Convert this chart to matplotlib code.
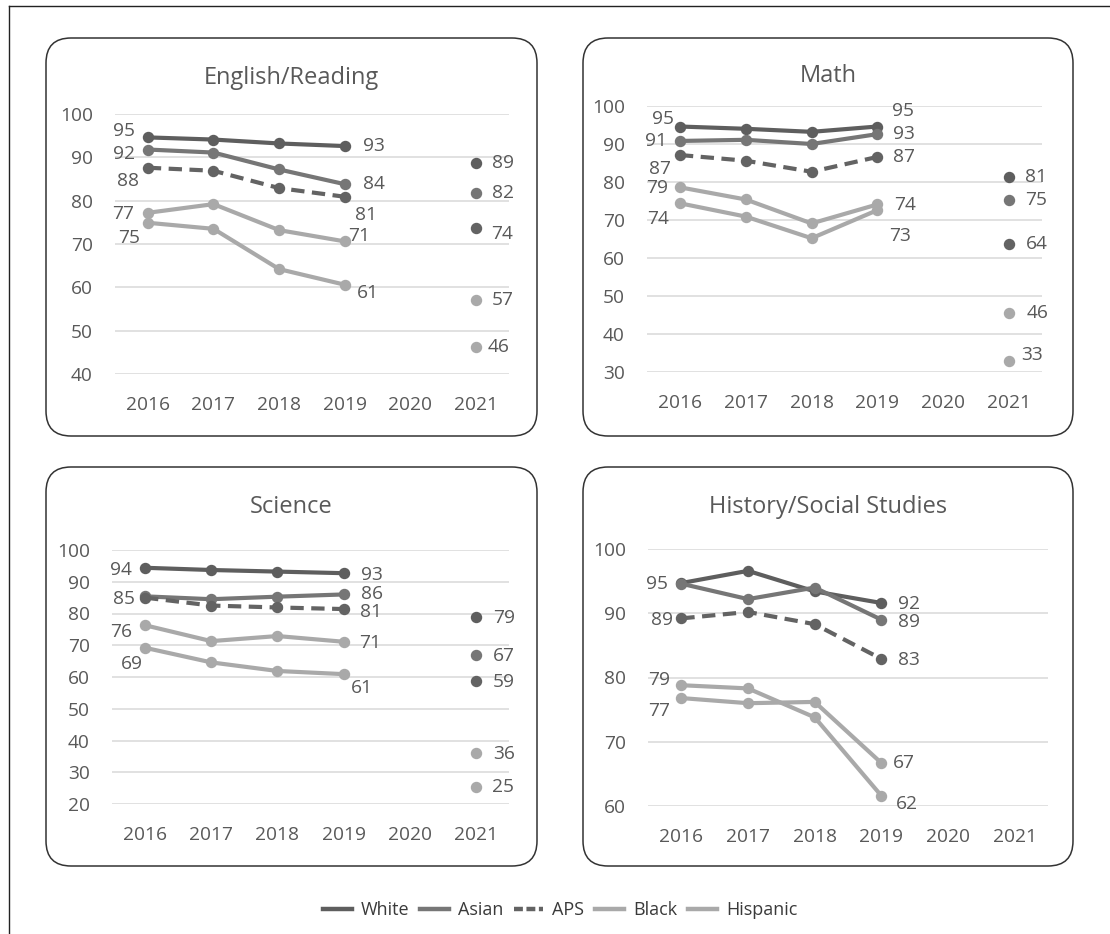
import numpy as np
import matplotlib
matplotlib.use("Agg")
import matplotlib.pyplot as plt
from matplotlib.patches import FancyBboxPatch
from matplotlib.lines import Line2D

plt.rcParams['font.family'] = ['Open Sans', 'DejaVu Sans']

# ---------------- data ----------------
years = ["2016", "2017", "2018", "2019", "2020", "2021"]
groups = ["White", "Asian", "APS", "Black", "Hispanic"]
nan = np.nan

english_white    = [94.6, 94.1, 93.2, 92.6, nan, 88.6]
english_asian    = [91.8, 91.1, 87.2, 83.8, nan, 81.7]
english_aps      = [87.6, 86.9, 82.9, 80.9, nan, 73.6]
english_black    = [77.2, 79.2, 73.2, 70.6, nan, 57.1]
english_hispanic = [74.9, 73.5, 64.2, 60.6, nan, 46.3]

math_white    = [94.6, 94.0, 93.2, 94.6, nan, 81.2]
math_asian    = [90.8, 91.1, 90.0, 92.6, nan, 75.3]
math_aps      = [87.1, 85.6, 82.7, 86.6, nan, 63.8]
math_black    = [78.6, 75.4, 69.1, 74.1, nan, 45.6]
math_hispanic = [74.4, 70.9, 65.2, 72.6, nan, 32.8]

science_white    = [94.4, 93.7, 93.2, 92.7, nan, 78.8]
science_asian    = [85.4, 84.5, 85.3, 86.0, nan, 66.9]
science_aps      = [85.0, 82.5, 81.9, 81.4, nan, 58.8]
science_black    = [76.3, 71.3, 72.9, 71.1, nan, 36.2]
science_hispanic = [69.2, 64.6, 61.9, 60.9, nan, 25.4]

history_white    = [94.7, 96.6, 93.4, 91.6, nan, nan]
history_asian    = [94.6, 92.2, 94.0, 89.0, nan, nan]
history_aps      = [89.2, 90.2, 88.3, 82.9, nan, nan]
history_black    = [78.8, 78.3, 73.8, 61.6, nan, nan]
history_hispanic = [76.8, 76.0, 76.2, 66.7, nan, nan]

subjects = ["English/Reading", "Math", "Science", "History/Social Studies"]
y_ranges = [(40, 100), (30, 100), (20, 100), (60, 100)]
y_steps = [10, 10, 10, 10]

series = {
    "English/Reading": [english_white, english_asian, english_aps, english_black, english_hispanic],
    "Math": [math_white, math_asian, math_aps, math_black, math_hispanic],
    "Science": [science_white, science_asian, science_aps, science_black, science_hispanic],
    "History/Social Studies": [history_white, history_asian, history_aps, history_black, history_hispanic],
}

# ---------------- styling / layout ----------------
W, H = 1110, 934
TEXT = "#595959"
GRID = "#d9d9d9"
group_style = {
    "White":    dict(color="#5e5e5e", ls="-"),
    "Asian":    dict(color="#767676", ls="-"),
    "APS":      dict(color="#636363", ls=(0, (3.2, 1.8))),
    "Black":    dict(color="#a9a9a9", ls="-"),
    "Hispanic": dict(color="#a9a9a9", ls="-"),
}

# panel boxes (pixel x0, y0, x1, y1) and plot areas (pixel x0, y_top, x1, y_bottom)
panel_boxes = {
    "English/Reading": (46, 38, 537, 436),
    "Math": (583, 38, 1073, 436),
    "Science": (46, 467, 537, 866),
    "History/Social Studies": (583, 467, 1073, 866),
}
plot_areas = {
    "English/Reading": (115, 114, 509, 374),
    "Math": (647, 106, 1042, 372),
    "Science": (112, 550, 509, 804),
    "History/Social Studies": (648, 549, 1048, 806),
}
title_y = {"English/Reading": 78, "Math": 76, "Science": 507, "History/Social Studies": 507}

# data label placement: (group, year index, dx px, dy px downward)
label_offsets = {
    "English/Reading": [
        ("White", 0, -24, -6), ("Asian", 0, -24, 4), ("APS", 0, -20, 13),
        ("Black", 0, -25, 1), ("Hispanic", 0, -19, 15),
        ("White", 3, 29, 0), ("Asian", 3, 29, 0), ("APS", 3, 21, 18),
        ("Black", 3, 14, -5), ("Hispanic", 3, 23, 8),
        ("White", 5, 27, 0), ("Asian", 5, 27, 0), ("APS", 5, 26, 6),
        ("Black", 5, 27, 0), ("Hispanic", 5, 22, 0),
    ],
    "Math": [
        ("White", 0, -17, -8), ("Asian", 0, -24, 0), ("APS", 0, -20, 14),
        ("Black", 0, -23, 1), ("Hispanic", 0, -22, 16),
        ("White", 3, 26, -16), ("Asian", 3, 27, 0), ("APS", 3, 27, 0),
        ("Black", 3, 28, 1), ("Hispanic", 3, 23, 26),
        ("White", 5, 27, 0), ("Asian", 5, 27, 0), ("APS", 5, 28, 0),
        ("Black", 5, 28, 0), ("Hispanic", 5, 23, -6),
    ],
    "Science": [
        ("White", 0, -24, 2), ("Asian", 0, -21, 3),
        ("Black", 0, -24, 7), ("Hispanic", 0, -13, 16),
        ("White", 3, 28, 2), ("Asian", 3, 28, 0), ("APS", 3, 27, 3),
        ("Black", 3, 27, 1), ("Hispanic", 3, 18, 14),
        ("White", 5, 28, 1), ("Asian", 5, 28, 1), ("APS", 5, 28, 1),
        ("Black", 5, 28, 1), ("Hispanic", 5, 27, 0),
    ],
    "History/Social Studies": [
        ("White", 0, -24, 1), ("APS", 0, -19, 2),
        ("Black", 0, -22, -5), ("Hispanic", 0, -22, 13),
        ("White", 3, 28, 1), ("Asian", 3, 28, 2), ("APS", 3, 28, 1),
        ("Black", 3, 26, 8), ("Hispanic", 3, 23, 0),
    ],
}

fig = plt.figure(figsize=(W / 100, H / 100), dpi=100)

# background layer in pixel units: outer frame and rounded panel boxes
bg = fig.add_axes([0, 0, 1, 1], zorder=0)
bg.set_xlim(0, W)
bg.set_ylim(H, 0)
bg.axis("off")
bg.plot([9, 9], [6, H], color="#222222", lw=1.0)
bg.plot([9, W], [6, 6], color="#222222", lw=1.0)
for name, (x0, y0, x1, y1) in panel_boxes.items():
    box = FancyBboxPatch((x0, y0), x1 - x0, y1 - y0,
                         boxstyle="round,pad=0,rounding_size=25",
                         fc="white", ec="#333333", lw=1.1)
    bg.add_patch(box)
    bg.text((x0 + x1) / 2, title_y[name], name, ha="center", va="center",
            fontsize=17, color=TEXT)

x = np.arange(len(years))
for name, (ymin, ymax), step in zip(subjects, y_ranges, y_steps):
    px0, py0, px1, py1 = plot_areas[name]
    ax = fig.add_axes([px0 / W, 1 - py1 / H, (px1 - px0) / W, (py1 - py0) / H], zorder=2)
    ax.patch.set_alpha(0)
    ax.set_xlim(-0.5, len(years) - 0.5)
    ax.set_ylim(ymin, ymax)
    ax.set_yticks(np.arange(ymin, ymax + 1, step))
    ax.set_xticks(x)
    ax.set_xticklabels(years)
    for s in ax.spines.values():
        s.set_visible(False)
    ax.tick_params(axis="both", length=0, labelsize=13.8, labelcolor=TEXT)
    ax.tick_params(axis="x", pad=15.5)
    ax.tick_params(axis="y", pad=16)
    ax.grid(axis="y", color=GRID, lw=1.1)
    ax.set_axisbelow(True)

    vals_by_group = dict(zip(groups, series[name]))
    for g in groups:
        st = group_style[g]
        ax.plot(x, vals_by_group[g], color=st["color"], ls=st["ls"], lw=3.0,
                marker="o", ms=7.2, mec=st["color"], mfc=st["color"],
                solid_capstyle="round", dash_capstyle="butt", clip_on=False)

    for g, i, dx, dy in label_offsets[name]:
        v = vals_by_group[g][i]
        ax.annotate(f"{round(v)}", (x[i], v), xytext=(dx, -dy),
                    textcoords="offset pixels", ha="center", va="center",
                    fontsize=13.8, color=TEXT, annotation_clip=False)

legend_ls = {"APS": (0, (2.0, 0.8))}
handles = [Line2D([], [], color=group_style[g]["color"],
                  ls=legend_ls.get(g, group_style[g]["ls"]), lw=3.2)
           for g in groups]
fig.legend(handles, groups, loc="center", bbox_to_anchor=(560 / W, 1 - 910 / H),
           ncol=5, frameon=False, fontsize=13, handlelength=1.6,
           handletextpad=0.5, columnspacing=0.6, labelcolor="#3a3a3a")

fig.savefig("out.png", dpi=100)
